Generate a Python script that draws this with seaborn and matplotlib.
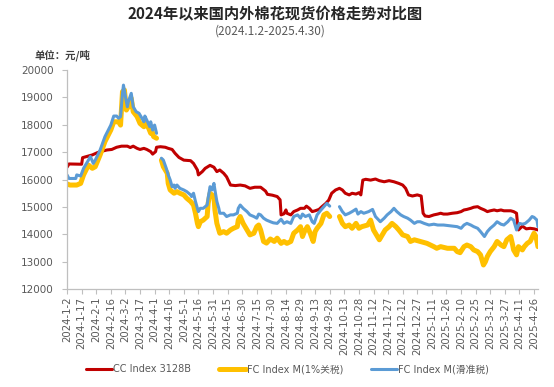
import matplotlib
matplotlib.use("Agg")
import matplotlib.pyplot as plt
from matplotlib.lines import Line2D
import seaborn as sns
import pandas as pd

title = "2024年以来国内外棉花现货价格走势对比图"
subtitle = "(2024.1.2-2025.4.30)"
unit_label = "单位：元/吨"
series_names = ["CC Index 3128B", "FC Index M(1%关税)", "FC Index M(滑准税)"]
series_colors = ["#C00000", "#FFC000", "#5B9BD5"]

cc_dates = [
    "2024-01-02", "2024-01-04", "2024-01-17", "2024-01-18", "2024-01-22", "2024-01-28",
    "2024-02-02", "2024-02-05", "2024-02-12", "2024-02-17", "2024-02-22", "2024-02-27",
    "2024-03-04", "2024-03-07", "2024-03-10", "2024-03-14", "2024-03-17", "2024-03-21",
    "2024-03-24", "2024-03-28", "2024-03-30", "2024-04-02", "2024-04-03", "2024-04-07",
    "2024-04-12", "2024-04-15", "2024-04-19", "2024-04-22", "2024-04-26", "2024-05-01",
    "2024-05-08", "2024-05-11", "2024-05-15", "2024-05-16", "2024-05-20", "2024-05-23",
    "2024-05-28", "2024-06-01", "2024-06-04", "2024-06-07", "2024-06-11", "2024-06-14",
    "2024-06-18", "2024-06-23", "2024-06-28", "2024-07-03", "2024-07-08", "2024-07-13",
    "2024-07-19", "2024-07-24", "2024-07-26", "2024-07-31", "2024-08-05", "2024-08-08",
    "2024-08-09", "2024-08-12", "2024-08-14", "2024-08-15", "2024-08-19", "2024-08-22",
    "2024-08-26", "2024-08-29", "2024-09-02", "2024-09-04", "2024-09-07", "2024-09-10",
    "2024-09-13", "2024-09-17", "2024-09-20", "2024-09-24", "2024-09-27", "2024-09-30",
    "2024-10-04", "2024-10-08", "2024-10-11", "2024-10-14", "2024-10-18", "2024-10-21",
    "2024-10-25", "2024-10-28", "2024-10-30", "2024-11-01", "2024-11-04", "2024-11-09",
    "2024-11-14", "2024-11-18", "2024-11-23", "2024-11-28", "2024-12-03", "2024-12-08",
    "2024-12-12", "2024-12-15", "2024-12-18", "2024-12-22", "2024-12-27", "2024-12-31",
    "2025-01-02", "2025-01-04", "2025-01-08", "2025-01-13", "2025-01-17", "2025-01-20",
    "2025-01-23", "2025-01-27", "2025-02-01", "2025-02-06", "2025-02-10", "2025-02-13",
    "2025-02-16", "2025-02-20", "2025-02-23", "2025-02-27", "2025-03-02", "2025-03-06",
    "2025-03-09", "2025-03-12", "2025-03-16", "2025-03-19", "2025-03-23", "2025-03-26",
    "2025-03-30", "2025-04-02", "2025-04-05", "2025-04-08", "2025-04-09", "2025-04-10",
    "2025-04-14", "2025-04-18", "2025-04-22", "2025-04-26", "2025-04-30",
]
cc_values = [
    16450, 16570, 16560, 16800, 16840, 16900,
    16980, 17020, 17080, 17100, 17180, 17220,
    17220, 17170, 17220, 17140, 17100, 17140,
    17100, 17020, 16930, 17020, 17180, 17200,
    17180, 17140, 17100, 16960, 16810, 16710,
    16690, 16590, 16350, 16170, 16290, 16410,
    16520, 16450, 16290, 16350, 16230, 16100,
    15800, 15780, 15800, 15770, 15680, 15720,
    15720, 15580, 15460, 15430, 15380, 15260,
    14710, 14750, 14890, 14770, 14710, 14830,
    14890, 14950, 14950, 15030, 14950, 14830,
    14860, 14910, 15010, 15130, 15250, 15500,
    15620, 15680, 15620, 15500, 15440, 15500,
    15470, 15520, 15440, 15980, 16010, 15980,
    16020, 15960, 15920, 15960, 15920, 15860,
    15800, 15680, 15440, 15400, 15440, 15400,
    14770, 14670, 14650, 14710, 14740, 14770,
    14740, 14740, 14770, 14790, 14830, 14890,
    14910, 14950, 14990, 15010, 14950, 14890,
    14830, 14860, 14890, 14860, 14890, 14860,
    14860, 14860, 14830, 14770, 14400, 14160,
    14300, 14200, 14220, 14200, 14160,
]

fc1_dates = [
    "2024-01-02", "2024-01-05", "2024-01-12", "2024-01-16", "2024-01-19", "2024-01-24",
    "2024-01-28", "2024-01-31", "2024-02-05", "2024-02-10", "2024-02-16", "2024-02-19",
    "2024-02-24", "2024-02-26", "2024-02-28", "2024-03-01", "2024-03-03", "2024-03-05",
    "2024-03-08", "2024-03-10", "2024-03-14", "2024-03-17", "2024-03-21", "2024-03-22",
    "2024-03-26", "2024-03-28", "2024-03-29", "2024-03-31", "2024-04-03", "2024-04-05",
    "2024-04-08", "2024-04-10", "2024-04-14", "2024-04-15", "2024-04-17", "2024-04-21",
    "2024-04-24", "2024-04-27", "2024-05-01", "2024-05-04", "2024-05-08", "2024-05-11",
    "2024-05-13", "2024-05-15", "2024-05-16", "2024-05-18", "2024-05-21", "2024-05-25",
    "2024-05-26", "2024-05-28", "2024-06-01", "2024-06-02", "2024-06-04", "2024-06-06",
    "2024-06-07", "2024-06-11", "2024-06-14", "2024-06-18", "2024-06-21", "2024-06-25",
    "2024-06-26", "2024-06-28", "2024-07-01", "2024-07-05", "2024-07-08", "2024-07-12",
    "2024-07-15", "2024-07-17", "2024-07-19", "2024-07-22", "2024-07-25", "2024-07-29",
    "2024-08-02", "2024-08-05", "2024-08-09", "2024-08-12", "2024-08-15", "2024-08-19",
    "2024-08-22", "2024-08-26", "2024-08-29", "2024-08-31", "2024-09-02", "2024-09-05",
    "2024-09-08", "2024-09-11", "2024-09-13", "2024-09-15", "2024-09-19", "2024-09-22",
    "2024-09-25", "2024-09-28", "2024-10-03", "2024-10-08", "2024-10-11", "2024-10-14",
    "2024-10-18", "2024-10-21", "2024-10-25", "2024-10-28", "2024-10-31", "2024-11-06",
    "2024-11-09", "2024-11-12", "2024-11-18", "2024-11-21", "2024-11-24", "2024-11-28",
    "2024-12-01", "2024-12-05", "2024-12-08", "2024-12-12", "2024-12-17", "2024-12-20",
    "2024-12-24", "2024-12-30", "2025-01-06", "2025-01-13", "2025-01-16", "2025-01-20",
    "2025-01-27", "2025-02-03", "2025-02-06", "2025-02-09", "2025-02-13", "2025-02-16",
    "2025-02-20", "2025-02-23", "2025-02-27", "2025-03-02", "2025-03-05", "2025-03-07",
    "2025-03-09", "2025-03-12", "2025-03-16", "2025-03-19", "2025-03-23", "2025-03-26",
    "2025-03-29", "2025-04-02", "2025-04-04", "2025-04-05", "2025-04-08", "2025-04-10",
    "2025-04-14", "2025-04-16", "2025-04-19", "2025-04-22", "2025-04-26", "2025-04-28",
    "2025-04-30",
]
fc1_values = [
    15840, 15800, 15800, 15860, 16170, 16530,
    16410, 16470, 16900, 17390, 17810, 18110,
    18110, 17990, 19210, 19270, 18540, 18660,
    18970, 18480, 18300, 18050, 17930, 18110,
    17870, 17690, 17810, 17570, 17510, None,
    16710, 16470, 16230, 15860, 15620, 15500,
    15560, 15500, 15440, 15320, 15200, 15070,
    14770, 14400, 14280, 14460, 14520, 14650,
    15130, 15500, 15380, 14890, 14400, 14160,
    14040, 14100, 14040, 14160, 14220, 14280,
    14520, 14650, 14400, 14160, 13980, 14040,
    14280, 14340, 14160, 13740, 13680, 13830,
    13740, 13860, 13670, 13740, 13670, 13740,
    14040, 14160, 14280, 13920, 14100, 14280,
    14040, 13740, 14100, 14220, 14400, 14710,
    14770, 14650, None, 14650, 14400, 14280,
    14340, 14220, 14400, 14220, 14280, 14340,
    14520, 14160, 13800, 13980, 14160, 14280,
    14400, 14280, 14160, 13980, 13920, 13740,
    13800, 13740, 13670, 13550, 13490, 13550,
    13490, 13490, 13370, 13330, 13550, 13610,
    13550, 13430, 13370, 13250, 12880, 13000,
    13190, 13370, 13550, 13740, 13610, 13550,
    13800, 13920, 13610, 13430, 13250, 13550,
    13430, 13550, 13670, 13740, 14040, 13920,
    13550,
]

fcs_dates = [
    "2024-01-02", "2024-01-04", "2024-01-11", "2024-01-12", "2024-01-16", "2024-01-19",
    "2024-01-24", "2024-01-26", "2024-01-29", "2024-01-31", "2024-02-05", "2024-02-10",
    "2024-02-16", "2024-02-19", "2024-02-22", "2024-02-24", "2024-02-26", "2024-02-28",
    "2024-02-29", "2024-03-02", "2024-03-04", "2024-03-05", "2024-03-08", "2024-03-10",
    "2024-03-13", "2024-03-16", "2024-03-19", "2024-03-21", "2024-03-22", "2024-03-24",
    "2024-03-27", "2024-03-28", "2024-03-30", "2024-04-01", "2024-04-03", "2024-04-05",
    "2024-04-08", "2024-04-10", "2024-04-13", "2024-04-15", "2024-04-17", "2024-04-19",
    "2024-04-21", "2024-04-22", "2024-04-24", "2024-04-27", "2024-05-01", "2024-05-04",
    "2024-05-08", "2024-05-09", "2024-05-11", "2024-05-13", "2024-05-15", "2024-05-16",
    "2024-05-18", "2024-05-21", "2024-05-25", "2024-05-26", "2024-05-28", "2024-05-30",
    "2024-06-01", "2024-06-02", "2024-06-04", "2024-06-06", "2024-06-07", "2024-06-11",
    "2024-06-14", "2024-06-18", "2024-06-21", "2024-06-25", "2024-06-26", "2024-06-28",
    "2024-07-01", "2024-07-05", "2024-07-08", "2024-07-12", "2024-07-15", "2024-07-17",
    "2024-07-19", "2024-07-22", "2024-07-25", "2024-07-29", "2024-08-01", "2024-08-05",
    "2024-08-09", "2024-08-12", "2024-08-15", "2024-08-19", "2024-08-22", "2024-08-26",
    "2024-08-29", "2024-08-31", "2024-09-03", "2024-09-07", "2024-09-10", "2024-09-12",
    "2024-09-15", "2024-09-19", "2024-09-22", "2024-09-25", "2024-09-28", "2024-10-03",
    "2024-10-08", "2024-10-11", "2024-10-14", "2024-10-18", "2024-10-21", "2024-10-25",
    "2024-10-27", "2024-10-30", "2024-11-02", "2024-11-07", "2024-11-11", "2024-11-14",
    "2024-11-19", "2024-11-23", "2024-11-26", "2024-11-30", "2024-12-03", "2024-12-06",
    "2024-12-10", "2024-12-13", "2024-12-17", "2024-12-20", "2024-12-24", "2024-12-27",
    "2024-12-30", "2025-01-03", "2025-01-08", "2025-01-13", "2025-01-17", "2025-01-23",
    "2025-01-30", "2025-02-06", "2025-02-10", "2025-02-13", "2025-02-16", "2025-02-20",
    "2025-02-23", "2025-02-27", "2025-03-02", "2025-03-06", "2025-03-09", "2025-03-12",
    "2025-03-16", "2025-03-19", "2025-03-23", "2025-03-26", "2025-03-30", "2025-04-02",
    "2025-04-05", "2025-04-08", "2025-04-11", "2025-04-14", "2025-04-17", "2025-04-21",
    "2025-04-24", "2025-04-26", "2025-04-29", "2025-04-30",
]
fcs_values = [
    16170, 16040, 16040, 16170, 16130, 16410,
    16710, 16840, 16590, 16710, 17080, 17570,
    17990, 18320, 18320, 18240, 18300, 19150,
    19450, 19030, 18660, 18840, 19150, 18660,
    18480, 18420, 18240, 18110, 18320, 18170,
    17930, 18110, 17810, 17990, 17690, None,
    16780, 16710, 16410, 16170, 15990, 15740,
    15800, 15680, 15800, 15680, 15620, 15560,
    15440, 15380, 15500, 15200, 14950, 14830,
    14950, 14950, 15070, 15320, 15740, 15620,
    15860, 15620, 15200, 14950, 14770, 14770,
    14650, 14710, 14710, 14770, 14950, 15070,
    14950, 14830, 14710, 14650, 14590, 14740,
    14710, 14590, 14520, 14460, 14420, 14400,
    14550, 14400, 14460, 14400, 14650, 14710,
    14590, 14740, 14650, 14710, 14460, 14400,
    14710, 14890, 15010, 15130, 15030, None,
    15010, 14830, 14710, 14770, 14830, 14920,
    14740, 14830, 14770, 14830, 14910, 14650,
    14460, 14590, 14710, 14830, 14950, 14830,
    14710, 14650, 14590, 14520, 14400, 14460,
    14460, 14400, 14340, 14370, 14340, 14340,
    14310, 14280, 14220, 14340, 14400, 14340,
    14280, 14220, 14100, 13920, 14100, 14220,
    14340, 14460, 14370, 14340, 14460, 14590,
    14520, 14160, 14400, 14370, 14400, 14520,
    14650, 14620, 14520, 14280,
]

y_ticks = [12000, 13000, 14000, 15000, 16000, 17000, 18000, 19000, 20000]
x_start, x_end = "2024-01-02", "2025-04-30"


def make_frame(dates, values):
    df = pd.DataFrame({"date": pd.to_datetime(dates), "value": pd.array(values, dtype="Float64")})
    df["segment"] = df["value"].isna().cumsum()
    df = df.dropna().copy()
    df["value"] = df["value"].astype(float)
    return df


sns.set_theme(style="white")
plt.rcParams["font.family"] = ["DejaVu Sans", "Noto Sans CJK SC"]

fig = plt.figure(figsize=(5.54, 3.87), dpi=100)
ax = fig.add_axes([0.121, 0.253, 0.850, 0.566])

frames = [make_frame(cc_dates, cc_values),
          make_frame(fc1_dates, fc1_values),
          make_frame(fcs_dates, fcs_values)]
widths = [2.2, 3.6, 2.2]
for df, col, lw in zip(frames, series_colors, widths):
    sns.lineplot(data=df, x="date", y="value", units="segment", estimator=None,
                 color=col, linewidth=lw, ax=ax, legend=False)

ax.set_ylim(12000, 20000)
ax.set_yticks(y_ticks)
ax.set_xlim(pd.Timestamp(x_start), pd.Timestamp(x_end))
tick_dates = pd.date_range(x_start, "2025-04-26", freq="15D")
ax.set_xticks(tick_dates)
ax.set_xticklabels([f"{d.year}-{d.month}-{d.day}" for d in tick_dates], rotation=90)
ax.set_xlabel("")
ax.set_ylabel("")

for s in ["top", "right"]:
    ax.spines[s].set_visible(False)
for s in ["left", "bottom"]:
    ax.spines[s].set_color("#BFBFBF")
    ax.spines[s].set_linewidth(0.9)
ax.tick_params(axis="both", which="major", length=3.5, width=0.8, color="#BFBFBF",
               direction="out", labelcolor="#595959")
ax.tick_params(axis="y", labelsize=7.5, pad=6, left=True)
ax.tick_params(axis="x", labelsize=7.3, pad=2, bottom=True)
ax.grid(False)

fig.text(0.496, 0.964, title, ha="center", va="center", fontsize=11,
         family=["Noto Sans CJK SC", "DejaVu Sans"], color="#262626", weight="bold")
fig.text(0.488, 0.920, subtitle, ha="center", va="center", fontsize=8.5,
         family=["Noto Sans CJK SC", "DejaVu Sans"], color="#595959")
fig.text(0.063, 0.858, unit_label, ha="left", va="center", fontsize=7.5,
         family=["Noto Sans CJK SC", "DejaVu Sans"], color="#404040", weight="bold")

handles = [Line2D([], [], color=c, linewidth=w) for c, w in zip(series_colors, widths)]
leg = ax.legend(handles, series_names, loc="center", bbox_to_anchor=(0.519, 0.046),
                bbox_transform=fig.transFigure, ncol=3, frameon=False, fontsize=7,
                handlelength=2.7, handletextpad=0.1, columnspacing=2.9,
                labelcolor="#595959")

fig.savefig("out.png", dpi=100)
